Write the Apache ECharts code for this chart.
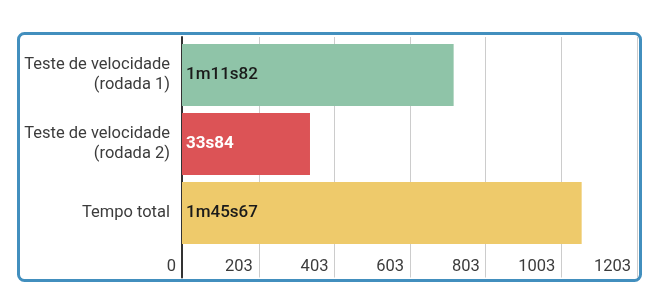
<!DOCTYPE html>
<html>
<head>
<meta charset="utf-8">
<script src="https://cdn.jsdelivr.net/npm/echarts@6/dist/echarts.min.js"></script>
<style>
html,body{margin:0;padding:0;background:#fff;}
#chart{width:652px;height:295px;}
</style>
</head>
<body>
<div id="chart"></div>
<script>
const categories = ["Teste de velocidade\n(rodada 1)", "Teste de velocidade\n(rodada 2)", "Tempo total"];
const values = [718.2, 338.4, 1056.7];
const valueLabels = ["1m11s82", "33s84", "1m45s67"];
const barColors = ["#8fc4a8", "#dc5356", "#eeca6b"];
const labelColors = ["#1a1a1a", "#ffffff", "#1a1a1a"];
const labelWeights = [500, "bold", 500];
const tickValues = [0, 203, 403, 603, 803, 1003, 1203];
const tickLabels = ["0", "203", "403", "603", "803", "1003", "1203"];

const chart = echarts.init(document.getElementById('chart'), null, {renderer: 'canvas'});
const FONT = 'Roboto';
const AX_MAX = 1203;

chart.setOption({
  animation: false,
  textStyle: {fontFamily: FONT},
  graphic: [{
    type: 'rect',
    shape: {x: 18.5, y: 33.5, width: 622, height: 247, r: 6},
    style: {fill: 'none', stroke: '#428fbe', lineWidth: 3},
    z: 10
  }],
  grid: [
    {left: 182, right: 15, top: 40.5, height: 207, containLabel: false},
    {left: 182, right: 15, top: 37, bottom: 17.5, containLabel: false}
  ],
  xAxis: [
    {gridIndex: 0, type: 'value', min: 0, max: AX_MAX, show: false},
    {
      gridIndex: 1, type: 'value', min: 0, max: AX_MAX,
      axisLine: {show: false},
      axisTick: {show: false, customValues: tickValues},
      splitLine: {show: true, lineStyle: {color: '#cccccc', width: 1}},
      axisLabel: {
        customValues: tickValues,
        inside: true,
        margin: 2,
        align: 'right',
        padding: [0, 6, 0, 0],
        color: '#3c3c3c',
        fontSize: 16.5,
        fontFamily: FONT,
        formatter: function (v) {
          const i = tickValues.indexOf(v);
          return i >= 0 ? tickLabels[i] : '';
        }
      }
    }
  ],
  yAxis: [
    {
      gridIndex: 0, type: 'category', inverse: true, data: categories,
      axisLine: {show: false},
      axisTick: {show: false},
      splitLine: {show: false},
      axisLabel: {color: '#3c3c3c', fontSize: 16.5, lineHeight: 20, margin: 12, fontFamily: FONT, align: 'right'}
    },
    {
      gridIndex: 1, type: 'value', min: 0, max: 1,
      axisLine: {show: true, onZero: false, lineStyle: {color: '#333333', width: 2}},
      axisTick: {show: false},
      axisLabel: {show: false},
      splitLine: {show: false}
    }
  ],
  series: [{
    type: 'bar',
    xAxisIndex: 0,
    yAxisIndex: 0,
    barCategoryGap: '10%',
    data: values.map((v, i) => ({
      value: v,
      itemStyle: {color: barColors[i]},
      label: {color: labelColors[i], fontWeight: labelWeights[i]}
    })),
    label: {
      show: true,
      position: 'insideLeft',
      distance: 4,
      fontSize: 17,
      fontFamily: FONT,
      formatter: function (p) { return valueLabels[p.dataIndex]; }
    }
  }]
});
</script>
</body>
</html>
